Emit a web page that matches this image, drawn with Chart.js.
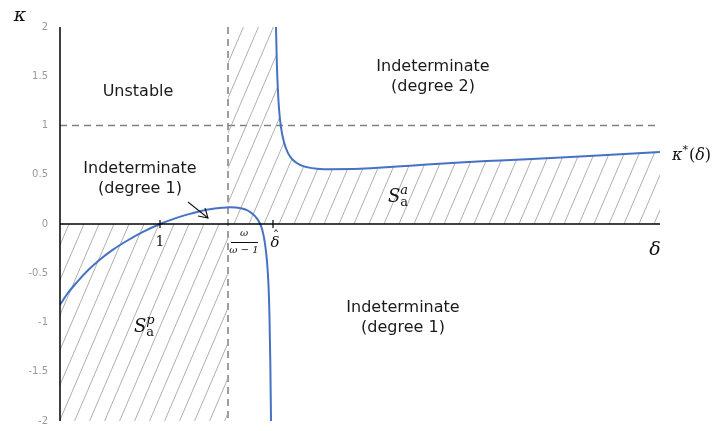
<!DOCTYPE html>
<html>
<head>
<meta charset="utf-8">
<script src="https://cdn.jsdelivr.net/npm/chart.js@4.4.1/dist/chart.umd.min.js"></script>
<style>
  html, body { margin: 0; padding: 0; background: #fff; }
  canvas { display: block; }
</style>
</head>
<body>
<canvas id="c" width="720" height="431"></canvas>
<script>
// κ*(δ), branch left of the pole
const leftDelta = [0.00, 0.08, 0.17, 0.28, 0.40, 0.53, 0.67, 0.83, 1.00, 1.13, 1.27, 1.40, 1.53, 1.62, 1.70, 1.76, 1.82, 1.87, 1.91, 1.95, 1.98, 2.01, 2.03, 2.05, 2.07, 2.085, 2.095, 2.103, 2.11];
const leftKappa = [-0.82, -0.70, -0.59, -0.47, -0.36, -0.26, -0.17, -0.08, 0.00, 0.05, 0.095, 0.13, 0.155, 0.165, 0.17, 0.168, 0.158, 0.14, 0.115, 0.08, 0.04, -0.02, -0.09, -0.20, -0.38, -0.62, -0.95, -1.40, -2.00];

// κ*(δ), branch right of the pole
const rightDelta = [2.16, 2.168, 2.178, 2.19, 2.21, 2.24, 2.28, 2.33, 2.40, 2.48, 2.57, 2.70, 3.00, 3.33, 3.67, 4.00, 4.40, 5.20, 6.00];
const rightKappa = [2.00, 1.65, 1.38, 1.17, 0.98, 0.83, 0.72, 0.65, 0.60, 0.575, 0.562, 0.556, 0.56, 0.58, 0.605, 0.625, 0.645, 0.685, 0.73];

// axis ranges and reference levels
const deltaRange = [0, 6];
const kappaRange = [-2, 2];
const kappaStep = 0.5;
const omegaRatio = 1.68;     // δ = ω/(ω−1)
const deltaHat = 2.13;       // δ̂
const unitDelta = 1;
const unitKappa = 1;

const BLUE = '#4472C4';

// diagonal hatch pattern
function makeHatch() {
  const w = 15, h = 35;
  const t = document.createElement('canvas');
  t.width = w; t.height = h;
  const g = t.getContext('2d');
  g.strokeStyle = '#a6a6a6';
  g.lineWidth = 0.9;
  for (const off of [-w, 0, w]) {
    g.beginPath();
    g.moveTo(off, h);
    g.lineTo(off + w, 0);
    g.stroke();
  }
  return g.createPattern(t, 'repeat');
}
const hatch = makeHatch();

const pts = (xs, ys) => xs.map((x, i) => ({ x, y: ys[i] }));

const guides = {
  id: 'guides',
  beforeDatasetsDraw(chart) {
    const { ctx, chartArea: a, scales: { x, y } } = chart;
    ctx.save();
    ctx.strokeStyle = '#7f7f7f';
    ctx.lineWidth = 1.5;
    ctx.setLineDash([7, 5]);
    const py = y.getPixelForValue(unitKappa);
    ctx.beginPath(); ctx.moveTo(a.left, py); ctx.lineTo(a.right, py); ctx.stroke();
    const px = x.getPixelForValue(omegaRatio);
    ctx.beginPath(); ctx.moveTo(px, a.top); ctx.lineTo(px, a.bottom); ctx.stroke();
    ctx.restore();
  },
  afterDatasetsDraw(chart) {
    const { ctx, chartArea: a, scales: { x, y } } = chart;
    ctx.save();
    // axes
    ctx.strokeStyle = '#000';
    ctx.lineWidth = 1.5;
    const y0 = y.getPixelForValue(0);
    ctx.beginPath(); ctx.moveTo(a.left, y0); ctx.lineTo(a.right, y0); ctx.stroke();
    ctx.beginPath(); ctx.moveTo(a.left, a.top); ctx.lineTo(a.left, a.bottom); ctx.stroke();
    ctx.lineWidth = 1.2;
    for (const d of [unitDelta, deltaHat]) {
      const px = x.getPixelForValue(d);
      ctx.beginPath(); ctx.moveTo(px, y0 - 4); ctx.lineTo(px, y0 + 4); ctx.stroke();
    }

    ctx.fillStyle = '#1a1a1a';
    ctx.textAlign = 'center';
    ctx.textBaseline = 'middle';
    ctx.font = '16px "DejaVu Sans"';
    ctx.fillText('Unstable', 138, 92);
    ctx.fillText('Indeterminate', 140, 169);
    ctx.fillText('(degree 1)', 140, 189);
    ctx.fillText('Indeterminate', 433, 67);
    ctx.fillText('(degree 2)', 433, 87);
    ctx.fillText('Indeterminate', 403, 308);
    ctx.fillText('(degree 1)', 403, 328);

    // arrow pointing at the curve
    ctx.strokeStyle = '#111';
    ctx.lineWidth = 1.1;
    ctx.beginPath(); ctx.moveTo(188, 202); ctx.lineTo(208, 218); ctx.stroke();
    ctx.beginPath(); ctx.moveTo(198, 216); ctx.lineTo(208, 218); ctx.lineTo(205, 208); ctx.stroke();

    // math labels
    const serif = '"DejaVu Serif"';
    ctx.fillStyle = '#111';
    ctx.font = 'italic 19px ' + serif;
    ctx.fillText('κ', 20, 16);
    ctx.fillText('δ', 655, 250);

    // κ*(δ)
    ctx.textAlign = 'left';
    ctx.textBaseline = 'alphabetic';
    let cx = 672;
    const cy = 160;
    ctx.font = 'italic 16px ' + serif;
    ctx.fillText('κ', cx, cy); cx += ctx.measureText('κ').width;
    ctx.font = '11px ' + serif;
    ctx.fillText('*', cx, cy - 7); cx += ctx.measureText('*').width + 1;
    ctx.font = '16px ' + serif;
    ctx.fillText('(', cx, cy); cx += ctx.measureText('(').width;
    ctx.font = 'italic 16px ' + serif;
    ctx.fillText('δ', cx, cy); cx += ctx.measureText('δ').width;
    ctx.font = '16px ' + serif;
    ctx.fillText(')', cx, cy);

    // S_a^a and S_a^p
    function sLabel(sx, sy, sup) {
      ctx.textAlign = 'left';
      ctx.textBaseline = 'alphabetic';
      ctx.font = 'italic 18px ' + serif;
      ctx.fillText('S', sx, sy);
      const w = ctx.measureText('S').width;
      ctx.font = 'italic 13px ' + serif;
      ctx.fillText(sup, sx + w, sy - 8);
      ctx.font = '13px ' + serif;
      ctx.fillText('a', sx + w, sy + 4);
    }
    sLabel(388, 202, 'a');
    sLabel(134, 332, 'p');

    // axis mark labels
    ctx.textAlign = 'center';
    ctx.textBaseline = 'middle';
    ctx.font = '14px ' + serif;
    ctx.fillText('1', x.getPixelForValue(unitDelta), y0 + 18);
    const hx = x.getPixelForValue(deltaHat) + 2;
    ctx.font = 'italic 15px ' + serif;
    ctx.fillText('δ', hx, y0 + 19);
    ctx.font = '13px ' + serif;
    ctx.fillText('\u02C6', hx + 1, y0 + 13);

    // ω/(ω−1)
    const fx = x.getPixelForValue(omegaRatio) + 16;
    ctx.font = 'italic 10px ' + serif;
    ctx.fillText('ω', fx, y0 + 9);
    ctx.fillRect(fx - 13, y0 + 18, 27, 1);
    ctx.fillText('ω − 1', fx, y0 + 26);
    ctx.restore();
  }
};

new Chart(document.getElementById('c'), {
  type: 'scatter',
  data: {
    datasets: [
      {
        data: pts(leftDelta, leftKappa),
        showLine: true, borderColor: BLUE, borderWidth: 2, pointRadius: 0,
        cubicInterpolationMode: 'monotone', fill: false
      },
      {
        data: pts(rightDelta, rightKappa),
        showLine: true, borderColor: BLUE, borderWidth: 2, pointRadius: 0,
        cubicInterpolationMode: 'monotone', fill: { value: 0 }, backgroundColor: hatch
      },
      {
        data: [{ x: deltaRange[0], y: kappaRange[0] }, { x: omegaRatio, y: kappaRange[0] }],
        showLine: true, borderWidth: 0, borderColor: 'rgba(0,0,0,0)', pointRadius: 0,
        fill: { value: 0 }, backgroundColor: hatch
      },
      {
        data: [{ x: omegaRatio, y: kappaRange[1] }, { x: rightDelta[0], y: kappaRange[1] }],
        showLine: true, borderWidth: 0, borderColor: 'rgba(0,0,0,0)', pointRadius: 0,
        fill: { value: 0 }, backgroundColor: hatch
      }
    ]
  },
  options: {
    responsive: false,
    animation: false,
    devicePixelRatio: 1,
    layout: { padding: { top: 27, right: 60, bottom: 10, left: 0 } },
    plugins: { legend: { display: false }, tooltip: { enabled: false } },
    scales: {
      x: { type: 'linear', min: deltaRange[0], max: deltaRange[1], display: false },
      y: {
        min: kappaRange[0], max: kappaRange[1],
        ticks: {
          stepSize: kappaStep, color: '#9a9a9a', padding: 2,
          font: { family: 'DejaVu Sans', size: 10 },
          callback: (v) => String(v)
        },
        grid: { display: false, drawTicks: true, tickLength: 10 },
        border: { display: false },
        afterFit(s) { s.width = 60; }
      }
    }
  },
  plugins: [guides]
});
</script>
</body>
</html>
